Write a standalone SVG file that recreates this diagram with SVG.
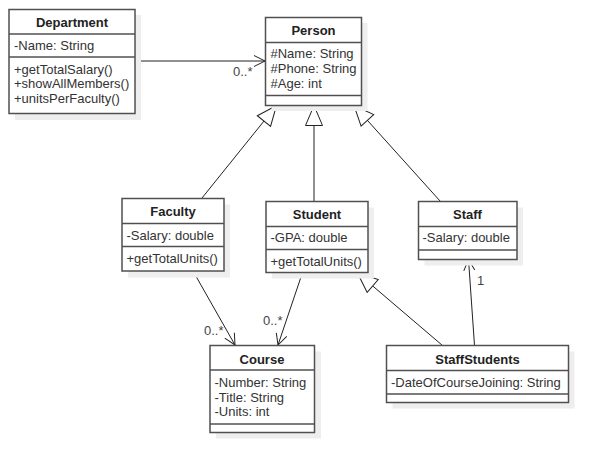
<svg xmlns="http://www.w3.org/2000/svg" width="608" height="473" viewBox="0 0 608 473">
<style>
.sh{fill:#eeeeee;stroke:none}
.bx{fill:#ffffff;stroke:#505050;stroke-width:1.5}
.dv{stroke:#505050;stroke-width:1.5}
.t{font-family:"Liberation Sans",Arial,sans-serif;font-size:13px;fill:#333333}
.tb{font-family:"Liberation Sans",Arial,sans-serif;font-size:13px;font-weight:bold;fill:#222222;text-anchor:middle}
.ln{stroke:#222222;stroke-width:1;fill:none}
.lb{font-family:"Liberation Sans",Arial,sans-serif;font-size:13px;fill:#444444}
</style>
<defs>
<marker id="gen" markerUnits="userSpaceOnUse" markerWidth="24" markerHeight="20" refX="20" refY="8.5" orient="auto" overflow="visible">
<path d="M0,0 L20,8.5 L0,17 Z" fill="#ffffff" stroke="#222222" stroke-width="1"/>
</marker>
<marker id="open" markerUnits="userSpaceOnUse" markerWidth="14" markerHeight="14" refX="11" refY="5.5" orient="auto" overflow="visible">
<path d="M0,0 L11,5.5 L0,11" fill="none" stroke="#222222" stroke-width="1"/>
</marker>
</defs>
<rect width="608" height="473" fill="#ffffff"/>
<g id="connectors">
<line class="ln" x1="135" y1="61" x2="265" y2="61" marker-end="url(#open)"/>
<text class="lb" x="233" y="76">0..*</text>
<line class="ln" x1="202" y1="198" x2="276.5" y2="105.5" marker-end="url(#gen)"/>
<line class="ln" x1="314" y1="202" x2="314" y2="105.5" marker-end="url(#gen)"/>
<line class="ln" x1="440.5" y1="201.5" x2="354" y2="105.5" marker-end="url(#gen)"/>
<line class="ln" x1="193" y1="271" x2="235" y2="345" marker-end="url(#open)"/>
<text class="lb" x="204" y="335">0..*</text>
<line class="ln" x1="302.5" y1="272.5" x2="278" y2="345" marker-end="url(#open)"/>
<text class="lb" x="263" y="325">0..*</text>
<line class="ln" x1="442.5" y1="345.5" x2="357.5" y2="273" marker-end="url(#gen)"/>
<line class="ln" x1="474.5" y1="345.5" x2="468.5" y2="259.5" marker-end="url(#open)"/>
<text class="lb" x="477" y="285">1</text>
</g>
<g id="department">
<rect class="sh" x="15" y="15" width="126" height="105"/>
<rect class="bx" x="9" y="9.5" width="126" height="104"/>
<line class="dv" x1="9" y1="34" x2="135" y2="34"/>
<line class="dv" x1="9" y1="57" x2="135" y2="57"/>
<text class="tb" x="72" y="27">Department</text>
<text class="t" x="14" y="50">-Name: String</text>
<text class="t" x="14" y="74">+getTotalSalary()</text>
<text class="t" x="14" y="88">+showAllMembers()</text>
<text class="t" x="14" y="102.5">+unitsPerFaculty()</text>
</g>
<g id="person">
<rect class="sh" x="271.5" y="23" width="96" height="88"/>
<rect class="bx" x="265.5" y="17.5" width="96" height="88"/>
<line class="dv" x1="265.5" y1="42.5" x2="361.5" y2="42.5"/>
<line class="dv" x1="265.5" y1="95.5" x2="361.5" y2="95.5"/>
<text class="tb" x="313.5" y="35">Person</text>
<text class="t" x="270.5" y="57.5">#Name: String</text>
<text class="t" x="270.5" y="72.5">#Phone: String</text>
<text class="t" x="270.5" y="87.5">#Age: int</text>
</g>
<g id="faculty">
<rect class="sh" x="128" y="204.5" width="102" height="73"/>
<rect class="bx" x="122" y="198.5" width="102" height="72.5"/>
<line class="dv" x1="122" y1="223.5" x2="224" y2="223.5"/>
<line class="dv" x1="122" y1="246.5" x2="224" y2="246.5"/>
<text class="tb" x="173" y="215.5">Faculty</text>
<text class="t" x="126.5" y="239.5">-Salary: double</text>
<text class="t" x="126.5" y="262.5">+getTotalUnits()</text>
</g>
<g id="student">
<rect class="sh" x="272" y="207.5" width="102" height="71"/>
<rect class="bx" x="266" y="201.5" width="102" height="71"/>
<line class="dv" x1="266" y1="226.5" x2="368" y2="226.5"/>
<line class="dv" x1="266" y1="249.5" x2="368" y2="249.5"/>
<text class="tb" x="317" y="218.5">Student</text>
<text class="t" x="270.5" y="242">-GPA: double</text>
<text class="t" x="270.5" y="265.5">+getTotalUnits()</text>
</g>
<g id="staff">
<rect class="sh" x="424.5" y="207.5" width="98.5" height="58"/>
<rect class="bx" x="418.5" y="201.5" width="98.5" height="58"/>
<line class="dv" x1="418.5" y1="226.5" x2="517" y2="226.5"/>
<line class="dv" x1="418.5" y1="250" x2="517" y2="250"/>
<text class="tb" x="467.5" y="218.5">Staff</text>
<text class="t" x="422.5" y="242">-Salary: double</text>
</g>
<g id="course">
<rect class="sh" x="216" y="351.5" width="105" height="87"/>
<rect class="bx" x="210" y="345.5" width="104.5" height="87"/>
<line class="dv" x1="210" y1="370" x2="314.5" y2="370"/>
<line class="dv" x1="210" y1="424" x2="314.5" y2="424"/>
<text class="tb" x="262" y="363.5">Course</text>
<text class="t" x="214.5" y="386.5">-Number: String</text>
<text class="t" x="214.5" y="401.5">-Title: String</text>
<text class="t" x="214.5" y="416">-Units: int</text>
</g>
<g id="staffstudents">
<rect class="sh" x="392.5" y="351.5" width="182" height="57"/>
<rect class="bx" x="386.5" y="345.5" width="182" height="57"/>
<line class="dv" x1="386.5" y1="370.5" x2="568.5" y2="370.5"/>
<line class="dv" x1="386.5" y1="394" x2="568.5" y2="394"/>
<text class="tb" x="477.5" y="363.5">StaffStudents</text>
<text class="t" x="391" y="386.5">-DateOfCourseJoining: String</text>
</g>
</svg>
